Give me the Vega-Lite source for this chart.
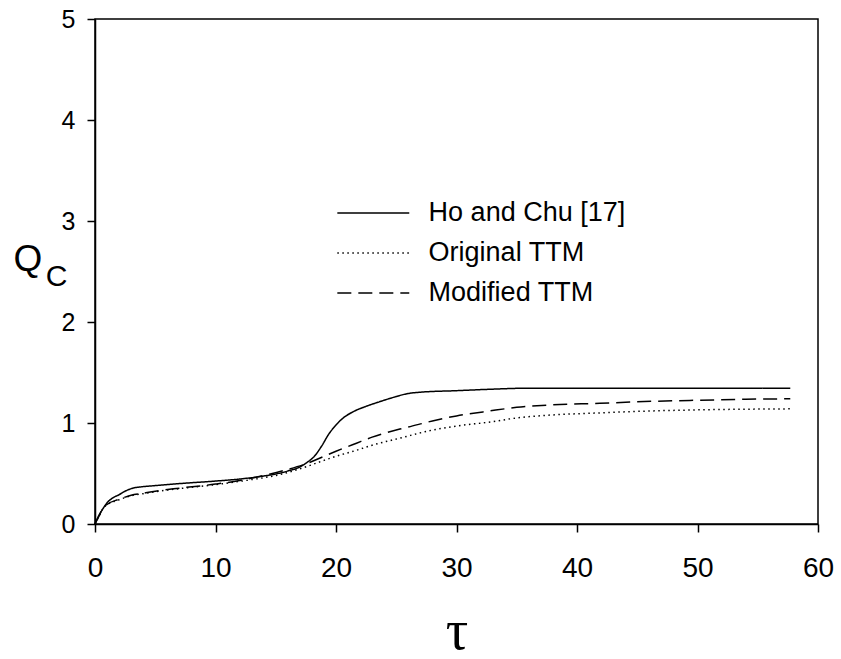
{
  "$schema": "https://vega.github.io/schema/vega-lite/v6.json",
  "width": 723,
  "height": 505,
  "autosize": "none",
  "padding": {"left": 95, "top": 19, "right": 23, "bottom": 135},
  "background": "white",
  "config": {
    "view": {"stroke": "black", "strokeWidth": 1.5},
    "axis": {
      "grid": false,
      "domainColor": "black",
      "tickColor": "black",
      "labelColor": "black",
      "titleColor": "black",
      "labelFont": "Liberation Sans",
      "titleFont": "Liberation Sans",
      "titleFontWeight": "normal",
      "tickSize": 8,
      "tickWidth": 1.5,
      "domainWidth": 1.5,
      "labelFlush": false,
      "labelOverlap": false
    }
  },
  "data": {
    "values": [
      {"s": "Ho and Chu [17]", "t": 0, "q": 0},
      {"s": "Ho and Chu [17]", "t": 0.3, "q": 0.08},
      {"s": "Ho and Chu [17]", "t": 0.6, "q": 0.14},
      {"s": "Ho and Chu [17]", "t": 1, "q": 0.21},
      {"s": "Ho and Chu [17]", "t": 1.5, "q": 0.26},
      {"s": "Ho and Chu [17]", "t": 2, "q": 0.29},
      {"s": "Ho and Chu [17]", "t": 2.5, "q": 0.325},
      {"s": "Ho and Chu [17]", "t": 3, "q": 0.35},
      {"s": "Ho and Chu [17]", "t": 4, "q": 0.37},
      {"s": "Ho and Chu [17]", "t": 5, "q": 0.38},
      {"s": "Ho and Chu [17]", "t": 7, "q": 0.40},
      {"s": "Ho and Chu [17]", "t": 10, "q": 0.425},
      {"s": "Ho and Chu [17]", "t": 12, "q": 0.445},
      {"s": "Ho and Chu [17]", "t": 14, "q": 0.475},
      {"s": "Ho and Chu [17]", "t": 15, "q": 0.495},
      {"s": "Ho and Chu [17]", "t": 16, "q": 0.525},
      {"s": "Ho and Chu [17]", "t": 17, "q": 0.565},
      {"s": "Ho and Chu [17]", "t": 17.6, "q": 0.61},
      {"s": "Ho and Chu [17]", "t": 18.2, "q": 0.67},
      {"s": "Ho and Chu [17]", "t": 18.8, "q": 0.77},
      {"s": "Ho and Chu [17]", "t": 19.4, "q": 0.89},
      {"s": "Ho and Chu [17]", "t": 20, "q": 0.98},
      {"s": "Ho and Chu [17]", "t": 20.6, "q": 1.05},
      {"s": "Ho and Chu [17]", "t": 21.4, "q": 1.11},
      {"s": "Ho and Chu [17]", "t": 22.5, "q": 1.165},
      {"s": "Ho and Chu [17]", "t": 23.6, "q": 1.21},
      {"s": "Ho and Chu [17]", "t": 24.8, "q": 1.255},
      {"s": "Ho and Chu [17]", "t": 25.9, "q": 1.29},
      {"s": "Ho and Chu [17]", "t": 27, "q": 1.305},
      {"s": "Ho and Chu [17]", "t": 30, "q": 1.32},
      {"s": "Ho and Chu [17]", "t": 33, "q": 1.335},
      {"s": "Ho and Chu [17]", "t": 36, "q": 1.345},
      {"s": "Ho and Chu [17]", "t": 40, "q": 1.345},
      {"s": "Ho and Chu [17]", "t": 45, "q": 1.343},
      {"s": "Ho and Chu [17]", "t": 50, "q": 1.343},
      {"s": "Ho and Chu [17]", "t": 57.7, "q": 1.343},
      {"s": "Original TTM", "t": 0, "q": 0},
      {"s": "Original TTM", "t": 0.3, "q": 0.07},
      {"s": "Original TTM", "t": 0.7, "q": 0.16},
      {"s": "Original TTM", "t": 1, "q": 0.19},
      {"s": "Original TTM", "t": 2, "q": 0.24},
      {"s": "Original TTM", "t": 3, "q": 0.28},
      {"s": "Original TTM", "t": 4, "q": 0.30},
      {"s": "Original TTM", "t": 5, "q": 0.32},
      {"s": "Original TTM", "t": 7, "q": 0.35},
      {"s": "Original TTM", "t": 10, "q": 0.39},
      {"s": "Original TTM", "t": 13, "q": 0.44},
      {"s": "Original TTM", "t": 15, "q": 0.48},
      {"s": "Original TTM", "t": 17.6, "q": 0.57},
      {"s": "Original TTM", "t": 19, "q": 0.63},
      {"s": "Original TTM", "t": 20, "q": 0.67},
      {"s": "Original TTM", "t": 21.7, "q": 0.73},
      {"s": "Original TTM", "t": 23, "q": 0.78},
      {"s": "Original TTM", "t": 25.3, "q": 0.85},
      {"s": "Original TTM", "t": 28, "q": 0.93},
      {"s": "Original TTM", "t": 30, "q": 0.97},
      {"s": "Original TTM", "t": 32.8, "q": 1.01},
      {"s": "Original TTM", "t": 35, "q": 1.05},
      {"s": "Original TTM", "t": 38, "q": 1.08},
      {"s": "Original TTM", "t": 41.9, "q": 1.10},
      {"s": "Original TTM", "t": 45, "q": 1.115},
      {"s": "Original TTM", "t": 50, "q": 1.13},
      {"s": "Original TTM", "t": 57.7, "q": 1.14},
      {"s": "Modified TTM", "t": 0, "q": 0},
      {"s": "Modified TTM", "t": 0.3, "q": 0.07},
      {"s": "Modified TTM", "t": 0.7, "q": 0.165},
      {"s": "Modified TTM", "t": 1, "q": 0.195},
      {"s": "Modified TTM", "t": 2, "q": 0.245},
      {"s": "Modified TTM", "t": 3, "q": 0.285},
      {"s": "Modified TTM", "t": 4, "q": 0.305},
      {"s": "Modified TTM", "t": 5, "q": 0.325},
      {"s": "Modified TTM", "t": 7, "q": 0.355},
      {"s": "Modified TTM", "t": 10, "q": 0.395},
      {"s": "Modified TTM", "t": 12, "q": 0.43},
      {"s": "Modified TTM", "t": 14, "q": 0.48},
      {"s": "Modified TTM", "t": 16, "q": 0.54},
      {"s": "Modified TTM", "t": 17.6, "q": 0.6},
      {"s": "Modified TTM", "t": 19, "q": 0.67},
      {"s": "Modified TTM", "t": 20, "q": 0.72},
      {"s": "Modified TTM", "t": 21.7, "q": 0.8},
      {"s": "Modified TTM", "t": 23, "q": 0.86},
      {"s": "Modified TTM", "t": 25.3, "q": 0.94},
      {"s": "Modified TTM", "t": 26, "q": 0.96},
      {"s": "Modified TTM", "t": 28, "q": 1.02},
      {"s": "Modified TTM", "t": 30, "q": 1.07},
      {"s": "Modified TTM", "t": 32.8, "q": 1.12},
      {"s": "Modified TTM", "t": 35, "q": 1.155},
      {"s": "Modified TTM", "t": 38, "q": 1.18},
      {"s": "Modified TTM", "t": 41.9, "q": 1.195},
      {"s": "Modified TTM", "t": 45, "q": 1.21},
      {"s": "Modified TTM", "t": 50, "q": 1.225},
      {"s": "Modified TTM", "t": 54, "q": 1.235},
      {"s": "Modified TTM", "t": 57.7, "q": 1.24}
    ]
  },
  "layer": [
    {
      "mark": {"type": "line", "color": "black", "strokeWidth": 1.5, "interpolate": "monotone"},
      "encoding": {
        "x": {
          "field": "t",
          "type": "quantitative",
          "scale": {"domain": [0, 60]},
          "axis": {
            "values": [0, 10, 20, 30, 40, 50, 60],
            "labelFontSize": 28,
            "labelPadding": 22,
            "title": "τ",
            "titleFont": "Liberation Serif",
            "titleFontSize": 56,
            "titleX": 361.5,
            "titleY": 124,
            "titleAlign": "center",
            "titleBaseline": "alphabetic"
          }
        },
        "y": {
          "field": "q",
          "type": "quantitative",
          "scale": {"domain": [0, 5]},
          "axis": {
            "values": [0, 1, 2, 3, 4, 5],
            "labelFontSize": 25,
            "labelPadding": 12,
            "title": "Q",
            "titleAngle": 0,
            "titleFontSize": 37,
            "titleX": -67.5,
            "titleY": 251,
            "titleAlign": "center",
            "titleBaseline": "alphabetic"
          }
        },
        "strokeDash": {
          "field": "s",
          "type": "nominal",
          "scale": {
            "domain": ["Ho and Chu [17]", "Original TTM", "Modified TTM"],
            "range": [[1, 0], [1.5, 3.5], [14, 7]]
          },
          "legend": {
            "title": null,
            "orient": "none",
            "legendX": 264.8,
            "legendY": 180.5,
            "symbolType": "M-5,0H5",
            "symbolSize": 207,
            "symbolStrokeColor": "black",
            "symbolStrokeWidth": 1.5,
            "labelFont": "Liberation Sans",
            "labelFontSize": 27,
            "labelColor": "black",
            "labelOffset": 41.8,
            "labelLimit": 0,
            "rowPadding": 12,
            "padding": 0
          }
        }
      }
    },
    {
      "mark": {"type": "point", "opacity": 0},
      "encoding": {
        "x": {"field": "t", "type": "quantitative"},
        "y": {
          "field": "q",
          "type": "quantitative",
          "axis": {
            "orient": "left",
            "title": "C",
            "labels": false,
            "ticks": false,
            "domain": false,
            "titleAngle": 0,
            "titleFontSize": 30,
            "titleX": -39,
            "titleY": 266,
            "titleAlign": "center",
            "titleBaseline": "alphabetic"
          }
        }
      }
    }
  ],
  "resolve": {"axis": {"y": "independent"}}
}
